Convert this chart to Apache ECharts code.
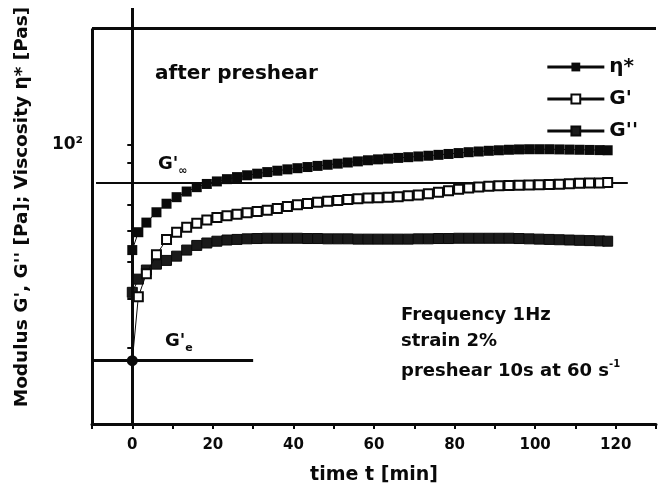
<!DOCTYPE html>
<html>
<head>
<meta charset="utf-8">
<script src="https://cdn.jsdelivr.net/npm/echarts@6/dist/echarts.min.js"></script>
<style>
html, body { margin: 0; padding: 0; background: #fff; }
#chart { width: 659px; height: 498px; }
</style>
</head>
<body>
<div id="chart"></div>
<script>
// time t [min]
const time = [0, 1.5, 3.5, 6, 8.5, 11, 13.5, 16, 18.5, 21, 23.5, 26, 28.5, 31, 33.5, 36, 38.5, 41, 43.5, 46,
	48.5, 51, 53.5, 56, 58.5, 61, 63.5, 66, 68.5, 71, 73.5, 76, 78.5, 81, 83.5, 86, 88.5, 91, 93.5, 96,
	98.5, 101, 103.5, 106, 108.5, 111, 113.5, 116, 118];
// viscosity eta* [Pas]
const etaStar = [53.5, 59.5, 63, 67, 70.5, 73.3, 75.8, 77.8, 79.3, 80.5, 81.6, 82.6, 83.5, 84.3, 85.1, 85.8, 86.5, 87.1, 87.7, 88.3,
	88.9, 89.5, 90.1, 90.7, 91.3, 91.8, 92.2, 92.6, 93.0, 93.4, 93.8, 94.3, 94.8, 95.3, 95.8, 96.2, 96.6, 96.9, 97.2, 97.4,
	97.5, 97.5, 97.5, 97.4, 97.3, 97.2, 97.1, 97.0, 96.9];
// storage modulus G' [Pa]
const gStorage = [27.7, 40.5, 46.5, 52, 57, 59.5, 61.3, 62.8, 64, 64.9, 65.6, 66.2, 66.8, 67.3, 67.8, 68.5, 69.3, 70.1, 70.6, 71.1,
	71.5, 71.9, 72.3, 72.6, 72.9, 73.1, 73.3, 73.5, 73.9, 74.3, 74.8, 75.5, 76.2, 76.8, 77.4, 77.9, 78.2, 78.4, 78.6, 78.7,
	78.8, 78.9, 79.0, 79.2, 79.4, 79.6, 79.7, 79.8, 80];
// loss modulus G'' [Pa]
const gLoss = [41.6, 45, 47.5, 49.2, 50.3, 51.6, 53.5, 55.0, 55.8, 56.4, 56.8, 57.0, 57.2, 57.3, 57.4, 57.4, 57.4, 57.4, 57.3, 57.3,
	57.2, 57.2, 57.2, 57.1, 57.1, 57.1, 57.1, 57.1, 57.1, 57.2, 57.2, 57.3, 57.3, 57.4, 57.4, 57.4, 57.4, 57.4, 57.4, 57.3,
	57.2, 57.1, 57.0, 56.9, 56.8, 56.7, 56.6, 56.5, 56.4];

const xLimits = [-10, 130];
const xLabels = [0, 20, 40, 60, 80, 100, 120];
const yLimits = [19, 226];
const yFrameTop = 200;
const yMinorTicks = [30, 40, 50, 60, 70, 80, 90, 100];
const yLabelValues = [100];
const gInfinity = 80;   // G'inf
const gInfSpan = [-9, 123];
const gEquil = 27.7;    // G'e
const gEqSpan = [-10, 30];

const lg = Math.log10;
const FONT = "'DejaVu Sans', sans-serif";
const INK = '#0a0a0a';

function toPairs(vals) {
	return vals.map(function(v, i) { return [time[i], lg(v)]; });
}

let storageData = toPairs(gStorage);
// first G' point is the G'e dot
storageData[0] = {
	value: storageData[0],
	symbol: 'circle',
	symbolSize: 9,
	itemStyle: { color: INK, borderColor: INK }
};

function textStyle(size) {
	return { fontFamily: FONT, fontWeight: 'bold', fontSize: size, color: INK };
}

let subRich = {
	g: { fontFamily: FONT, fontWeight: 'bold', fontSize: 18, color: INK, lineHeight: 26 },
	sub: { fontFamily: FONT, fontWeight: 'bold', fontSize: 11, color: INK, verticalAlign: 'bottom' },
	sup: { fontFamily: FONT, fontWeight: 'bold', fontSize: 10, color: INK, verticalAlign: 'top' }
};

let option = {
	animation: false,
	backgroundColor: '#fff',
	grid: { left: 92, right: -3, top: 8, bottom: 74 },
	title: [
		{ text: 'after preshear', left: 150, top: 59, textStyle: textStyle(20) },
		{ text: "{g|G'}{sub|∞}", left: 153, top: 146, textStyle: { rich: subRich } },
		{ text: "{g|G'}{sub|e}", left: 160, top: 323, textStyle: { rich: subRich } },
		{ text: 'Frequency 1Hz', left: 396, top: 301, textStyle: textStyle(18) },
		{ text: 'strain 2%', left: 396, top: 327, textStyle: textStyle(18) },
		{
			text: '{t|preshear 10s at 60 s}{sup|-1}', left: 396, top: 354,
			textStyle: { rich: { t: { fontFamily: FONT, fontWeight: 'bold', fontSize: 18, color: INK, lineHeight: 24 }, sup: subRich.sup } }
		}
	],
	legend: {
		data: ['η*', "G'", "G''"],
		orient: 'vertical',
		right: 16,
		top: 52,
		itemWidth: 57,
		itemHeight: 11,
		itemGap: 12,
		lineStyle: { width: 3, color: INK },
		textStyle: textStyle(20),
		selectedMode: false
	},
	xAxis: {
		type: 'value',
		min: xLimits[0],
		max: xLimits[1],
		interval: 10,
		name: 'time t [min]',
		nameLocation: 'middle',
		nameGap: 42,
		nameTextStyle: textStyle(19),
		axisLine: { lineStyle: { color: INK, width: 3 } },
		axisTick: { length: 5, lineStyle: { color: INK, width: 2 } },
		axisLabel: {
			margin: 14,
			fontFamily: FONT, fontWeight: 'bold', fontSize: 15, color: INK,
			formatter: function(v) { return xLabels.indexOf(v) >= 0 ? String(v) : ''; }
		},
		splitLine: { show: false }
	},
	yAxis: {
		type: 'value',
		min: lg(yLimits[0]),
		max: lg(yLimits[1]),
		name: "Modulus G', G'' [Pa]; Viscosity η* [Pas]",
		nameLocation: 'middle',
		nameGap: 60,
		nameTextStyle: Object.assign(textStyle(18.5), { padding: [0, 0, 0, 18] }),
		axisLine: { show: false },
		axisTick: {
			length: 5,
			customValues: yMinorTicks.map(lg),
			lineStyle: { color: INK, width: 2 }
		},
		axisLabel: {
			customValues: yLabelValues.map(lg),
			margin: 9,
			fontFamily: FONT, fontWeight: 'bold', fontSize: 17, color: INK,
			formatter: function() { return '10²'; }
		},
		splitLine: { show: false }
	},
	series: [
		{
			name: 'η*',
			type: 'line',
			data: toPairs(etaStar),
			symbol: 'rect',
			symbolSize: 10,
			showAllSymbol: true,
			lineStyle: { color: INK, width: 1 },
			itemStyle: { color: INK },
			z: 4
		},
		{
			name: "G'",
			type: 'line',
			data: storageData,
			symbol: 'rect',
			symbolSize: 9,
			showAllSymbol: true,
			lineStyle: { color: INK, width: 1 },
			itemStyle: { color: '#fff', borderColor: INK, borderWidth: 2 },
			z: 5,
			markLine: {
				silent: true,
				symbol: 'none',
				label: { show: false },
				lineStyle: { color: INK, type: 'solid' },
				data: [
					// frame: top and left border
					[{ coord: [xLimits[0], lg(yFrameTop)], lineStyle: { width: 3, color: INK } }, { coord: [xLimits[1], lg(yFrameTop)] }],
					[{ coord: [xLimits[0], lg(yLimits[0])], lineStyle: { width: 3, color: INK } }, { coord: [xLimits[0], lg(yFrameTop)] }],
					// t = 0
					[{ coord: [0, lg(yLimits[0])], lineStyle: { width: 3, color: INK } }, { coord: [0, lg(yLimits[1])] }],
					// G'inf
					[{ coord: [gInfSpan[0], lg(gInfinity)], lineStyle: { width: 2, color: INK } }, { coord: [gInfSpan[1], lg(gInfinity)] }],
					// G'e
					[{ coord: [gEqSpan[0], lg(gEquil)], lineStyle: { width: 3, color: INK } }, { coord: [gEqSpan[1], lg(gEquil)] }]
				]
			}
		},
		{
			name: "G''",
			type: 'line',
			data: toPairs(gLoss),
			symbol: 'rect',
			symbolSize: 10,
			showAllSymbol: true,
			lineStyle: { color: INK, width: 1 },
			itemStyle: { color: '#1a1a1a', borderColor: INK, borderWidth: 1 },
			z: 4
		}
	]
};

let myChart = echarts.init(document.getElementById('chart'));
myChart.setOption(option);
</script>
</body>
</html>
